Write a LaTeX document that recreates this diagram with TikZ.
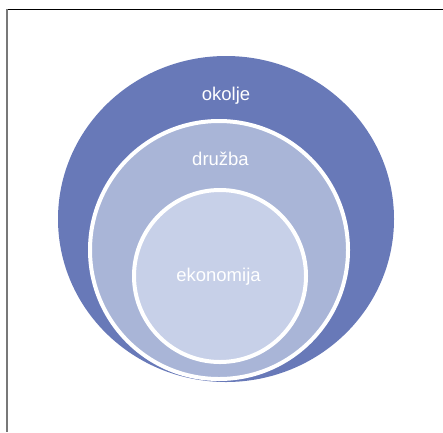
\documentclass[tikz,border=0pt]{standalone}
\usepackage{fontspec}
\setmainfont{Liberation Sans}
\definecolor{okoljecolor}{RGB}{104, 121, 184}
\definecolor{druzbacolor}{RGB}{169, 181, 215}
\definecolor{ekonomijacolor}{RGB}{199, 208, 232}
\definecolor{framegray}{RGB}{120, 120, 120}
\usetikzlibrary{
  calc,
  positioning,
  shapes.geometric,
}
\tikzset{
  ring/.style={draw=white, line width=4pt, circle, inner sep=0pt, outer sep=0pt},
  label text/.style={text=white, anchor=base, font=\fontsize{18.5}{22}\selectfont},
}

\begin{document}
\begin{tikzpicture}[x=1pt, y=-1pt]
      \useasboundingbox (0,0) rectangle (443,432);
      \draw [black, line width=1.8pt] (6,9.5) -- (443,9.5);
      \draw [framegray, line width=2pt] (6.5,9) -- (6.5,432);
      \node [ellipse, fill=okoljecolor, inner sep=0pt, outer sep=0pt,
             minimum width=336pt, minimum height=326pt] (okolje) at (226,219) {};
      \node [ring, fill=druzbacolor, minimum size=258pt] (druzba) at (219,250) {};
      \node [ring, fill=ekonomijacolor, minimum size=172pt] (ekonomija) at (220,276) {};
      \node [label text] (okoljelabel) at (226,100) {okolje};
      \node [label text] (druzbalabel) at (220.5,165.7) {družba};
      \node [label text] (ekonomijalabel) at (218.5,281.7) {ekonomija};
    \end{tikzpicture}
\end{document}
